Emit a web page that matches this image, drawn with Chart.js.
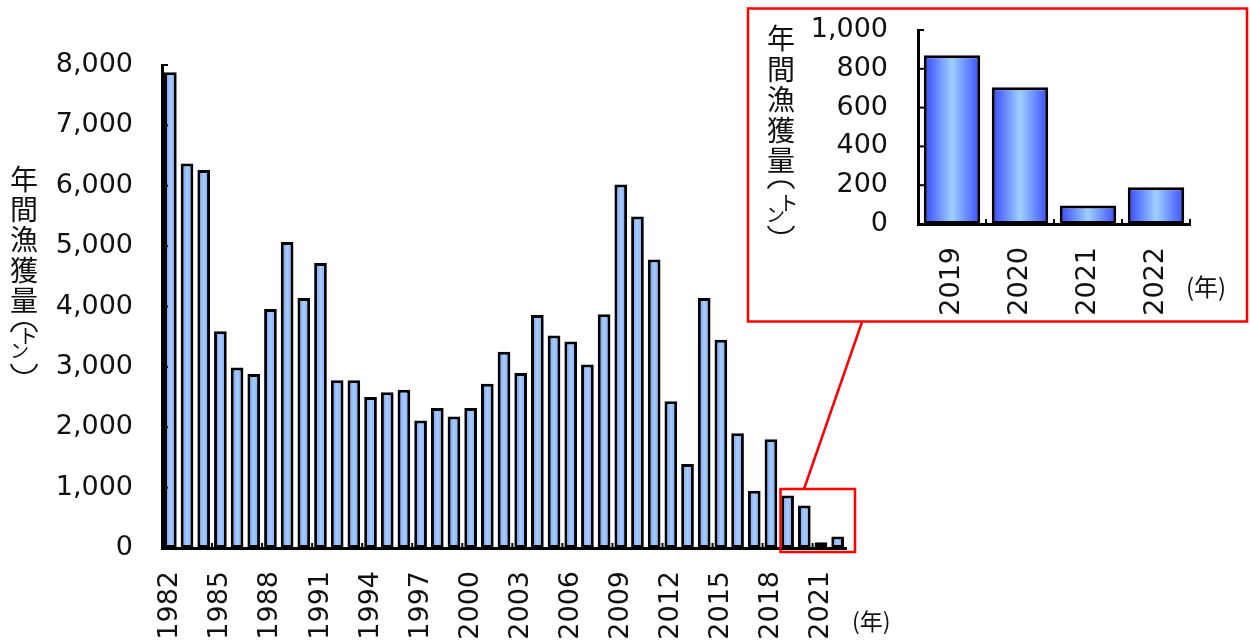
<!DOCTYPE html>
<html><head><meta charset="utf-8">
<script src="https://cdn.jsdelivr.net/npm/chart.js@4.4.1/dist/chart.umd.min.js"></script>
<style>
html,body{margin:0;padding:0;background:#fff;}
#wrap{position:relative;width:1250px;height:641px;overflow:hidden;background:#fff;}
canvas{position:absolute;left:0;top:0;width:1250px;height:641px;}
</style></head><body>
<div id="wrap">
<canvas id="main" width="1250" height="641"></canvas>
<canvas id="inset" width="1250" height="641"></canvas>
</div>
<script>
// ---- data ----
const years = ['1982','1983','1984','1985','1986','1987','1988','1989','1990','1991',
  '1992','1993','1994','1995','1996','1997','1998','1999','2000','2001',
  '2002','2003','2004','2005','2006','2007','2008','2009','2010','2011',
  '2012','2013','2014','2015','2016','2017','2018','2019','2020','2021','2022'];
const catchTons = [7880,6370,6260,3590,2990,2880,3960,5070,4140,4720,
  2780,2780,2500,2580,2620,2110,2320,2180,2320,2720,
  3250,2900,3860,3520,3420,3040,3870,6020,5490,4780,
  2430,1390,4140,3450,1900,950,1800,870,705,95,190];
const mainYTicks = [0,1000,2000,3000,4000,5000,6000,7000,8000];
const mainXTickEvery = 3;
const insetYears = ['2019','2020','2021','2022'];
const insetCatch = [870,705,95,190];
const insetYTicks = [0,200,400,600,800,1000];
const titleChars = ['年','間','漁','獲','量'];
const unitChars = ['ト','ン'];
const xUnitLabel = '(年)';

const TICK_FONT = {family:"'DejaVu Sans', sans-serif", size:27};
const JP = "'Noto Sans CJK JP', sans-serif";

function barGradient(stops, pct) {
  return (c) => {
    const chart = c.chart, xs = chart.scales && chart.scales.x;
    if (!xs || c.dataIndex === undefined || !chart.chartArea) return stops[1];
    const n = chart.data.labels.length;
    const cx = xs.getPixelForValue(c.dataIndex);
    const hw = xs.width / n * pct / 2;
    const g = chart.ctx.createLinearGradient(cx - hw, 0, cx + hw, 0);
    g.addColorStop(0, stops[0]); g.addColorStop(0.5, stops[1]); g.addColorStop(1, stops[2]);
    return g;
  };
}
function line(ctx, x1, y1, x2, y2) { ctx.beginPath(); ctx.moveTo(x1, y1); ctx.lineTo(x2, y2); ctx.stroke(); }

function drawTitle(ctx, t) {
  ctx.save();
  ctx.fillStyle = '#111'; ctx.strokeStyle = '#111';
  ctx.textAlign = 'center'; ctx.textBaseline = 'middle';
  ctx.font = '28px ' + JP;
  titleChars.forEach((ch, i) => ctx.fillText(ch, t.cx, t.first + i * t.step));
  ctx.lineWidth = 2;
  const a = 0.08 * Math.PI, ry = t.ph / (1 - Math.sin(a));
  ctx.beginPath(); ctx.ellipse(t.cx, t.open + ry, 13.5, ry, 0, Math.PI + a, 2 * Math.PI - a); ctx.stroke();
  ctx.beginPath(); ctx.ellipse(t.cx, t.close - ry, 13.5, ry, 0, a, Math.PI - a); ctx.stroke();
  ctx.font = '20px ' + JP;
  ctx.fillText(unitChars[0], t.to[0], t.to[1]);
  ctx.font = '19px ' + JP;
  ctx.fillText(unitChars[1], t.n[0], t.n[1]);
  ctx.restore();
}

function drawAxisMarks(chart, yTicks, every, tickLen) {
  const ctx = chart.ctx, ya = chart.scales.y, xa = chart.scales.x;
  const n = chart.data.labels.length;
  ctx.save();
  ctx.strokeStyle = '#000'; ctx.lineWidth = 2;
  yTicks.forEach(v => { const py = ya.getPixelForValue(v); line(ctx, xa.left, py, xa.left + tickLen, py); });
  const catW = (xa.right - xa.left) / n;
  for (let k = every; k <= n; k += every) {
    const px = xa.left + k * catW;
    line(ctx, px, ya.bottom, px, ya.bottom - 5);
  }
  ctx.restore();
}

const mainPlugin = {
  id: 'mainDeco',
  afterDraw(chart) {
    const ctx = chart.ctx;
    drawAxisMarks(chart, mainYTicks, mainXTickEvery, 6);
    drawTitle(ctx, { cx: 24, first: 179, step: 30.3, open: 323, ph: 9, close: 373,
                     to: [28, 336.5], n: [19.5, 351] });
    ctx.save();
    ctx.fillStyle = '#111'; ctx.font = '23px ' + JP;
    ctx.textAlign = 'left'; ctx.textBaseline = 'middle';
    ctx.fillText(xUnitLabel, 852, 621);
    ctx.strokeStyle = '#ff0000'; ctx.lineWidth = 2.5;
    ctx.strokeRect(780.5, 489, 74.5, 63);
    line(ctx, 862, 322, 804, 489);
    ctx.restore();
  }
};

const insetPlugin = {
  id: 'insetDeco',
  afterDraw(chart) {
    const ctx = chart.ctx;
    drawAxisMarks(chart, insetYTicks, 1, 6);
    drawTitle(ctx, { cx: 781, first: 38.5, step: 30.5, open: 181.5, ph: 7, close: 233,
                     to: [788.5, 203.5], n: [775.5, 215] });
    ctx.save();
    ctx.fillStyle = '#111'; ctx.font = '24px ' + JP;
    ctx.textAlign = 'left'; ctx.textBaseline = 'middle';
    ctx.fillText(xUnitLabel, 1186, 287);
    ctx.strokeStyle = '#ff0000'; ctx.lineWidth = 2.5;
    ctx.strokeRect(748, 8.5, 499, 313);
    ctx.restore();
  }
};

function makeChart(id, labels, values, yTicks, yMax, pad, yWidth, barPct, stops, xCallback, yPad, plugin) {
  return new Chart(document.getElementById(id), {
    type: 'bar',
    data: { labels, datasets: [{
      data: values,
      backgroundColor: barGradient(stops, barPct),
      borderColor: '#000', borderWidth: 3, borderSkipped: false,
      barPercentage: barPct, categoryPercentage: 1
    }]},
    options: {
      responsive: false, maintainAspectRatio: false, animation: false, events: [],
      layout: { padding: pad, autoPadding: false },
      plugins: { legend: { display: false }, tooltip: { enabled: false } },
      scales: {
        x: {
          grid: { display: false, drawTicks: false },
          border: { display: true, color: '#000', width: 3 },
          ticks: { autoSkip: false, maxRotation: 90, minRotation: 90, padding: 23,
                   color: '#111', font: TICK_FONT, callback: xCallback },
          afterFit(s) { s.height = 93; s.paddingLeft = 0; s.paddingRight = 0; }
        },
        y: {
          min: 0, max: yMax,
          grid: { display: false, drawTicks: false },
          border: { display: true, color: '#000', width: 3 },
          afterBuildTicks(s) { s.ticks = yTicks.map(v => ({ value: v })); },
          ticks: { padding: yPad, color: '#111', font: TICK_FONT,
                   callback: v => Number(v).toLocaleString('en-US') },
          afterFit(s) { s.width = yWidth; s.paddingTop = 0; s.paddingBottom = 0; }
        }
      }
    },
    plugins: [plugin]
  });
}

makeChart('main', years, catchTons, mainYTicks, 8000,
  { left: 0, top: 65, right: 1250 - 846, bottom: 0 }, 162, 0.76,
  ['#5f8cf5', '#a8ceff', '#6f9dfc'],
  function (v, i) { return i % mainXTickEvery === 0 ? this.getLabelForValue(v) : ''; },
  29, mainPlugin);

makeChart('inset', insetYears, insetCatch, insetYTicks, 1000,
  { left: 0, top: 30, right: 60, bottom: 641 - 224 - 93 }, 918, 0.83,
  ['#3346ff', '#9fd0ff', '#3a4cff'],
  function (v) { return this.getLabelForValue(v); },
  30, insetPlugin);
</script>
</body></html>
